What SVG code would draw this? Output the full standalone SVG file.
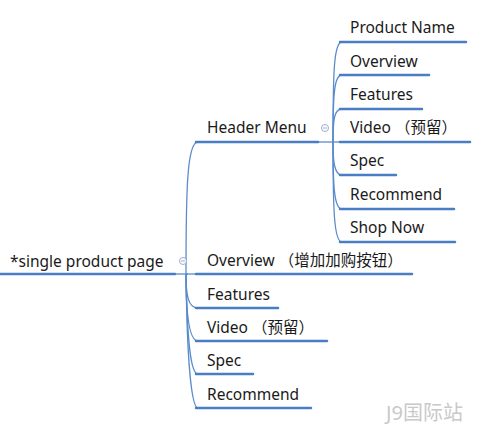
<svg xmlns="http://www.w3.org/2000/svg" width="483" height="432" viewBox="0 0 483 432">
<style>
.t{font-family:"Noto Sans","Noto Sans CJK SC",sans-serif;font-size:15.5px;fill:#1a1a1a}
.u{stroke:#4a7ec4;stroke-width:2.5;fill:none;stroke-linecap:round}
.c{stroke:#5a8ccc;stroke-width:1.3;fill:none}
.k{fill:#fff;stroke:#9aaed0;stroke-width:1}
.wm{font-family:"Noto Sans","Noto Sans CJK SC",sans-serif;font-size:20px;fill:#c9c9c9}
</style>
<rect width="483" height="432" fill="#fff"/>
<g id="connectors">
<path class="c" d="M175 274 L188 274"/>
<path class="c" d="M186 274 C186 190 187 142 198 142"/>
<path class="c" d="M186 274 L198 274"/>
<path class="c" d="M186 274 C186 295 188 308 198 308"/>
<path class="c" d="M186 274 C186 315 189 341 198 341"/>
<path class="c" d="M186 274 C187 335 190 374 198 374"/>
<path class="c" d="M186 274 C187 355 191 408 198 408"/>
<path class="c" d="M318 142 L340 142"/>
<path class="c" d="M333 142 C333 70 334 42 342 42"/>
<path class="c" d="M333 142 C333 95 334 75 342 75"/>
<path class="c" d="M333 142 C333 120 334 109 342 109"/>
<path class="c" d="M333 142 C333 160 334 175 342 175"/>
<path class="c" d="M333 142 C333 185 334 209 342 209"/>
<path class="c" d="M333 142 C333 210 334 242 342 242"/>
</g>
<g id="root">
<text class="t" x="10" y="267">*single product page</text>
<path class="u" d="M0 274 L175 274"/>
<circle class="k" cx="183" cy="261" r="3.5"/>
<path d="M181 261 L185 261" stroke="#9aaed0" stroke-width="1"/>
</g>
<g id="header-menu">
<text class="t" x="207" y="133">Header Menu</text>
<path class="u" d="M196 142 L318 142"/>
<circle class="k" cx="325" cy="128" r="3.5"/>
<path d="M323 128 L327 128" stroke="#9aaed0" stroke-width="1"/>
</g>
<g id="overview"><text class="t" x="207" y="266">Overview （增加加购按钮）</text><path class="u" d="M196 274 L412 274"/></g>
<g id="features"><text class="t" x="207" y="300">Features</text><path class="u" d="M196 308 L278 308"/></g>
<g id="video"><text class="t" x="207" y="333">Video （预留）</text><path class="u" d="M196 341 L327 341"/></g>
<g id="spec"><text class="t" x="207" y="366">Spec</text><path class="u" d="M196 374 L253 374"/></g>
<g id="recommend"><text class="t" x="207" y="400">Recommend</text><path class="u" d="M196 408 L311 408"/></g>
<g id="hm-product-name"><text class="t" x="350" y="33">Product Name</text><path class="u" d="M340 42 L466 42"/></g>
<g id="hm-overview"><text class="t" x="350" y="67">Overview</text><path class="u" d="M340 75 L429 75"/></g>
<g id="hm-features"><text class="t" x="350" y="100">Features</text><path class="u" d="M340 109 L422 109"/></g>
<g id="hm-video"><text class="t" x="350" y="133">Video （预留）</text><path class="u" d="M340 142 L470 142"/></g>
<g id="hm-spec"><text class="t" x="350" y="166">Spec</text><path class="u" d="M340 175 L396 175"/></g>
<g id="hm-recommend"><text class="t" x="350" y="200">Recommend</text><path class="u" d="M340 209 L454 209"/></g>
<g id="hm-shop-now"><text class="t" x="350" y="233">Shop Now</text><path class="u" d="M340 242 L455 242"/></g>
<text class="wm" x="386" y="420">J9国际站</text>
</svg>
